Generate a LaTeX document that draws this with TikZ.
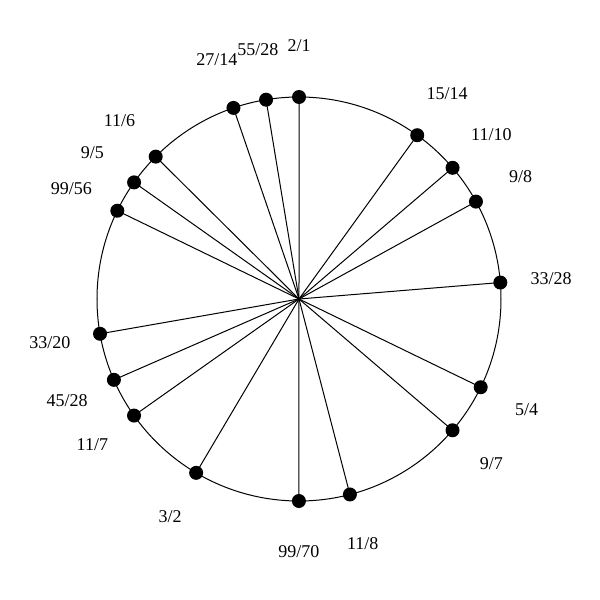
\documentclass[tikz,border=0pt]{standalone}
\usepackage{fontspec}
\setmainfont{Liberation Serif}
\begin{document}
\begin{tikzpicture}[x=1pt,y=1pt,
  rim/.style={line width=1pt},
  spoke/.style={line width=1pt},
  dot/.style={circle,fill=black,inner sep=0pt,minimum size=14pt},
  lab/.style={font=\fontsize{18}{20}\selectfont,inner sep=0pt}]
\useasboundingbox (-299,-301) rectangle (301,299);
\coordinate (c) at (0,0);
\draw[rim] (c) circle[radius=202];
\foreach \n/\d [count=\i] in {2/1,15/14,11/10,9/8,33/28,5/4,9/7,11/8,99/70,3/2,11/7,45/28,33/20,99/56,9/5,11/6,27/14,55/28}{
  \pgfmathsetmacro{\ang}{90-360*ln(\n/\d)/ln(2)}
  \node[dot] (p\i) at (\ang:202) {};
  \draw[spoke] (c) -- (p\i.center);
  \node[lab] (l\i) at (\ang:253) {\n/\d};
}
\end{tikzpicture}
\end{document}
